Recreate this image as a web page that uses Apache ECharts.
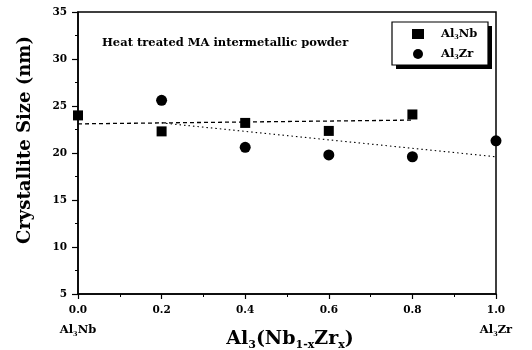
<!DOCTYPE html>
<html><head><meta charset="utf-8">
<script src="https://cdn.jsdelivr.net/npm/echarts@6/dist/echarts.min.js"></script>
<style>html,body{margin:0;padding:0;background:#fff}#c{width:532px;height:350px}</style>
</head><body><div id="c"></div>
<script>
// Data
const xNb = [0.0, 0.2, 0.4, 0.6, 0.8];
const sizeNb = [24.0, 22.3, 23.2, 22.35, 24.1];
const xZr = [0.2, 0.4, 0.6, 0.8, 1.0];
const sizeZr = [25.6, 20.6, 19.8, 19.6, 21.3];
const fitNbX = [0.0, 0.8];
const fitNbY = [23.1, 23.5];
const fitZrX = [0.2, 1.0];
const fitZrY = [23.2, 19.6];
const yTicks = [5, 10, 15, 20, 25, 30, 35];
const xTicks = [0.0, 0.2, 0.4, 0.6, 0.8, 1.0];
const endLabels = {0: 'Nb', 1: 'Zr'};

const F = '"DejaVu Serif", "Liberation Serif", serif';
const rich = {
  b: {fontFamily: F, fontWeight: 'bold', fontSize: 10.5, color: '#000', lineHeight: 14},
  e: {fontFamily: F, fontWeight: 'bold', fontSize: 11.5, color: '#000', lineHeight: 26},
  s: {fontFamily: F, fontWeight: 'bold', fontSize: 6.5, color: '#000', padding: [8, 0, 0, 0], lineHeight: 26}
};
const legRich = {
  b: {fontFamily: F, fontWeight: 'bold', fontSize: 11.5, color: '#000'},
  s: {fontFamily: F, fontWeight: 'bold', fontSize: 6.5, color: '#000', padding: [7, 0, 0, 0]}
};
const big = {
  b: {fontFamily: F, fontWeight: 'bold', fontSize: 19, color: '#000'},
  s: {fontFamily: F, fontWeight: 'bold', fontSize: 11, color: '#000', padding: [13, 0, 0, 0]}
};
const zip = (a, b) => a.map((v, i) => [v, b[i]]);

const chart = echarts.init(document.getElementById('c'));
chart.setOption({
  animation: false,
  backgroundColor: '#fff',
  grid: {left: 78, right: 36, top: 12, bottom: 56, show: true, borderColor: '#000', borderWidth: 1.5},
  legend: {
    data: ['Al3Nb', 'Al3Zr'], orient: 'vertical', left: 392, top: 22, z: 10,
    backgroundColor: 'transparent', borderWidth: 0,
    padding: [6, 5, 8, 20], itemGap: 7, itemWidth: 12, itemHeight: 10,
    formatter: n => n === 'Al3Nb' ? '{b|Al}{s|3}{b|Nb}' : '{b|Al}{s|3}{b|Zr}',
    textStyle: {rich: legRich, padding: [0, 0, 0, 12]}
  },
  graphic: [{
    type: 'rect', z: 5, shape: {x: 396, y: 26, width: 96, height: 43},
    style: {fill: '#000'}
  }, {
    type: 'rect', z: 6, shape: {x: 392, y: 22, width: 96, height: 43},
    style: {fill: '#fff', stroke: '#000', lineWidth: 1.2}
  }, {
    type: 'text', x: 102, y: 43,
    style: {text: 'Heat treated MA intermetallic powder', font: 'bold 11.5px ' + F, fill: '#000', verticalAlign: 'middle'}
  }, {
    type: 'text', x: 25, y: 140, rotation: Math.PI / 2,
    style: {text: 'Crystallite Size (nm)', font: 'bold 18px ' + F, fill: '#000', align: 'center', verticalAlign: 'middle'}
  }, {
    type: 'text', x: 290, y: 339,
    style: {text: '{b|Al}{s|3}{b|(Nb}{s|1-x}{b|Zr}{s|x}{b|)}', rich: big, align: 'center', verticalAlign: 'middle'}
  }],
  xAxis: {
    type: 'value', min: 0, max: 1, interval: 0.2,
    axisLine: {lineStyle: {color: '#000', width: 1.5}},
    axisTick: {show: true, length: 5, inside: false, lineStyle: {color: '#000', width: 1.2}},
    minorTick: {show: true, splitNumber: 2, length: 3, lineStyle: {color: '#000'}},
    splitLine: {show: false},
    axisLabel: {
      margin: 9,
      formatter: v => {
        const r = Math.round(v * 10) / 10;
        if (!xTicks.includes(r)) return '';
        const base = '{b|' + r.toFixed(1) + '}';
        return (r in endLabels) ? base + '\n{e|Al}{s|3}{e|' + endLabels[r] + '}' : base;
      },
      rich: rich
    }
  },
  yAxis: {
    type: 'value', min: 5, max: 35, interval: 5,
    axisLine: {lineStyle: {color: '#000', width: 1.5}},
    axisTick: {show: true, length: 6, lineStyle: {color: '#000', width: 1.2}},
    minorTick: {show: true, splitNumber: 2, length: 3, lineStyle: {color: '#000'}},
    splitLine: {show: false},
    axisLabel: {margin: 11, fontFamily: F, fontWeight: 'bold', fontSize: 10.5, color: '#000',
      formatter: v => yTicks.includes(v) ? String(v) : ''}
  },
  series: [
    {name: 'Al3Nb', type: 'scatter', symbol: 'rect', symbolSize: 10, data: zip(xNb, sizeNb),
     itemStyle: {color: '#000', opacity: 1}, z: 3},
    {name: 'Al3Zr', type: 'scatter', symbol: 'circle', symbolSize: 11, data: zip(xZr, sizeZr),
     itemStyle: {color: '#000', opacity: 1}, z: 3},
    {name: 'fitNb', type: 'line', data: zip(fitNbX, fitNbY), showSymbol: false, symbol: 'none',
     lineStyle: {color: '#000', width: 1.3, type: [4, 3]}},
    {name: 'fitZr', type: 'line', data: zip(fitZrX, fitZrY), showSymbol: false, symbol: 'none',
     lineStyle: {color: '#000', width: 1.1, type: [1.5, 3]}}
  ]
});
</script></body></html>
